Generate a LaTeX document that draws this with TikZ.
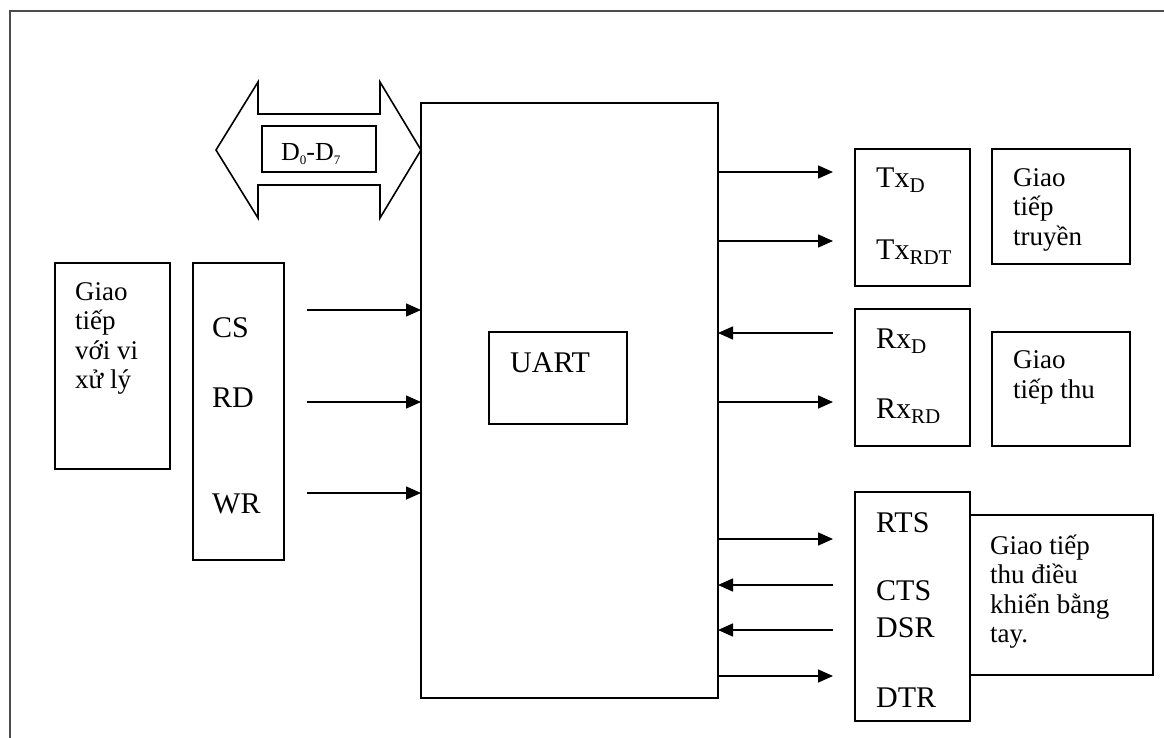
\documentclass[tikz,border=0pt]{standalone}
\usepackage{fontspec}
\setmainfont{Liberation Serif}
\usetikzlibrary{arrows.meta}
\tikzset{
  box/.style={draw, line width=1.6pt, inner sep=0pt, outer sep=0pt, rectangle},
  sig/.style={anchor=base west, inner sep=0pt, font=\fontsize{30}{30}\selectfont},
  txt/.style={anchor=base west, inner sep=0pt, align=left, font=\fontsize{27}{29.5}\selectfont},
  conn/.style={line width=1.6pt, -{Triangle[length=15pt,width=13pt]}},
}
\newcommand{\sbs}[1]{\raisebox{-5pt}{\fontsize{21}{21}\selectfont #1}}
\begin{document}
\begin{tikzpicture}[x=1pt,y=-1pt]
\useasboundingbox (0,0) rectangle (1164,738);
% outer frame
\draw[line width=2pt, black!70] (10,745) -- (10,11) -- (1170,11);

% boxes
\node[box, minimum width=115, minimum height=206] (cpu) at (112.5,366) {};
\node[box, minimum width=91, minimum height=297] (ctl) at (238.5,411.5) {};
\node[box, minimum width=297, minimum height=595] (uart) at (569.5,400.5) {};
\node[box, minimum width=138, minimum height=92] (uin) at (558,378) {};
\node[box, minimum width=115, minimum height=137] (tx) at (912.5,217.5) {};
\node[box, minimum width=138, minimum height=115] (gtt) at (1061,206.5) {};
\node[box, minimum width=115, minimum height=137] (rx) at (912.5,377.5) {};
\node[box, minimum width=138, minimum height=114] (gtr) at (1061,389) {};
\node[box, minimum width=115, minimum height=229] (hs) at (912.5,606.5) {};
\node[box, minimum width=183, minimum height=160] (gtd) at (1061.5,595) {};

% data bus double arrow
\draw[line width=1.6pt, line join=miter] (216,150) -- (258,82) -- (258,114) -- (380,114) -- (380,82) -- (421,150)
  -- (380,218) -- (380,185) -- (258,185) -- (258,218) -- cycle;
\node[box, minimum width=114, minimum height=46] (bus) at (319,149) {};
\node[anchor=base west, inner sep=0pt, font=\fontsize{26}{26}\selectfont] (bust) at (281,161)
  {D\raisebox{-4pt}{\fontsize{13}{13}\selectfont 0}-D\raisebox{-4pt}{\fontsize{13}{13}\selectfont 7}};

% texts (base anchor = last line baseline)
\node[txt] (cput) at (75,388.5) {Giao\\tiếp\\với vi\\xử lý};
\node[sig] (cs) at (212,337) {CS};
\node[sig] (rd) at (212,407) {RD};
\node[sig] (wr) at (212,513) {WR};
\node[sig] (uartt) at (510,372) {UART};
\node[sig] (txd) at (876,188) {Tx\sbs{D}};
\node[sig] (txr) at (876,259) {Tx\sbs{RDT}};
\node[sig] (rxd) at (876,348) {Rx\sbs{D}};
\node[sig] (rxr) at (876,418) {Rx\sbs{RD}};
\node[sig] (rts) at (876,532) {RTS};
\node[sig] (cts) at (876,600) {CTS};
\node[sig] (dsr) at (876,637) {DSR};
\node[sig] (dtr) at (876,707) {DTR};
\node[txt] (gttt) at (1013,245) {Giao\\tiếp\\truyền};
\node[txt] (gtrt) at (1013,398) {Giao\\tiếp thu};
\node[txt] (gtdt) at (990,642.5) {Giao tiếp\\thu điều\\khiển bằng\\tay.};

% left arrows
\coordinate (a1) at (307,310);
\coordinate (a2) at (307,402);
\coordinate (a3) at (307,493);
\draw[conn] (a1) -- (a1 -| uart.west);
\draw[conn] (a2) -- (a2 -| uart.west);
\draw[conn] (a3) -- (a3 -| uart.west);

% right arrows
\coordinate (r1) at (833,172);
\coordinate (r2) at (833,241);
\coordinate (r3) at (833,333);
\coordinate (r4) at (833,402);
\coordinate (r5) at (833,539);
\coordinate (r6) at (833,585);
\coordinate (r7) at (833,630);
\coordinate (r8) at (833,676);
\draw[conn] (r1 -| uart.east) -- (r1);
\draw[conn] (r2 -| uart.east) -- (r2);
\draw[conn] (r3) -- (r3 -| uart.east);
\draw[conn] (r4 -| uart.east) -- (r4);
\draw[conn] (r5 -| uart.east) -- (r5);
\draw[conn] (r6) -- (r6 -| uart.east);
\draw[conn] (r7) -- (r7 -| uart.east);
\draw[conn] (r8 -| uart.east) -- (r8);
\end{tikzpicture}
\end{document}
